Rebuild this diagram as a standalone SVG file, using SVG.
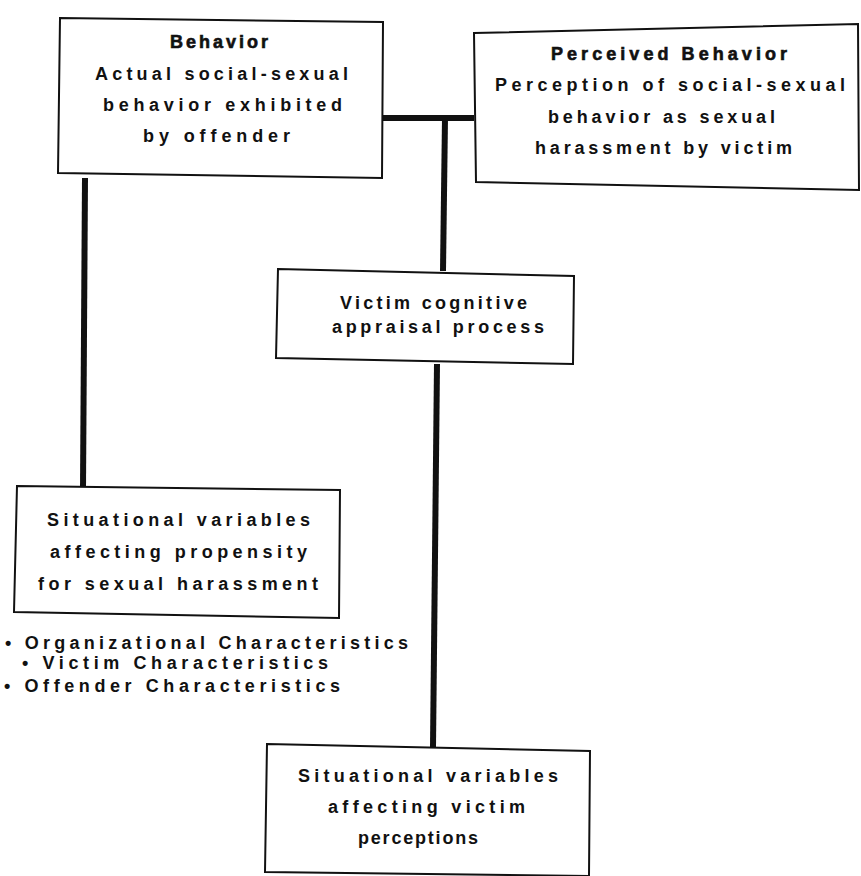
<svg xmlns="http://www.w3.org/2000/svg" width="861" height="876" viewBox="0 0 861 876">
<style>
.box{fill:#fff;stroke:#111;stroke-width:2}
.t{font-family:"Liberation Sans",Arial,sans-serif;font-size:18px;font-weight:bold;fill:#111}
.h{stroke:#111;stroke-width:0.6}
.c{fill:none;stroke:#111;stroke-width:6}
</style>
<rect width="861" height="876" fill="#fff"/>
<g id="connectors">
<line class="c" x1="383" y1="118" x2="474" y2="118"/>
<line class="c" x1="445" y1="118" x2="443" y2="271"/>
<line class="c" x1="85" y1="178" x2="83" y2="489"/>
<line class="c" x1="437" y1="364" x2="433" y2="747"/>
</g>
<g id="behavior">
<polygon class="box" points="60,18 383,22 382,178 58,173"/>
<text class="t h" x="170" y="48" textLength="98" lengthAdjust="spacing">Behavior</text>
<text class="t" x="95" y="80" textLength="253" lengthAdjust="spacing">Actual social-sexual</text>
<text class="t" x="103" y="111" textLength="239" lengthAdjust="spacing">behavior exhibited</text>
<text class="t" x="143" y="142" textLength="147" lengthAdjust="spacing">by offender</text>
</g>
<g id="perceived">
<polygon class="box" points="474,33 858,24 859,190 476,182"/>
<text class="t h" x="551" y="60" textLength="236" lengthAdjust="spacing">Perceived Behavior</text>
<text class="t" x="495" y="91" textLength="350" lengthAdjust="spacing">Perception of social-sexual</text>
<text class="t" x="548" y="123" textLength="227" lengthAdjust="spacing">behavior as sexual</text>
<text class="t" x="535" y="154" textLength="257" lengthAdjust="spacing">harassment by victim</text>
</g>
<g id="appraisal">
<polygon class="box" points="278,269 574,276 573,364 276,358"/>
<text class="t" x="340" y="309" textLength="187" lengthAdjust="spacing">Victim cognitive</text>
<text class="t" x="332" y="333" textLength="212" lengthAdjust="spacing">appraisal process</text>
</g>
<g id="situational-offender">
<polygon class="box" points="17,486 340,490 339,618 14,612"/>
<text class="t" x="47" y="526" textLength="263" lengthAdjust="spacing">Situational variables</text>
<text class="t" x="50" y="558" textLength="257" lengthAdjust="spacing">affecting propensity</text>
<text class="t" x="38" y="590" textLength="280" lengthAdjust="spacing">for sexual harassment</text>
<text class="t" x="5" y="649" textLength="403" lengthAdjust="spacing">• Organizational Characteristics</text>
<text class="t" x="22" y="669" textLength="306" lengthAdjust="spacing">• Victim Characteristics</text>
<text class="t" x="4" y="692" textLength="336" lengthAdjust="spacing">• Offender Characteristics</text>
</g>
<g id="situational-victim">
<polygon class="box" points="267,744 590,751 589,876 265,872"/>
<text class="t" x="298" y="782" textLength="260" lengthAdjust="spacing">Situational variables</text>
<text class="t" x="328" y="813" textLength="197" lengthAdjust="spacing">affecting victim</text>
<text class="t" x="358" y="844" textLength="120" lengthAdjust="spacing">perceptions</text>
</g>
</svg>
